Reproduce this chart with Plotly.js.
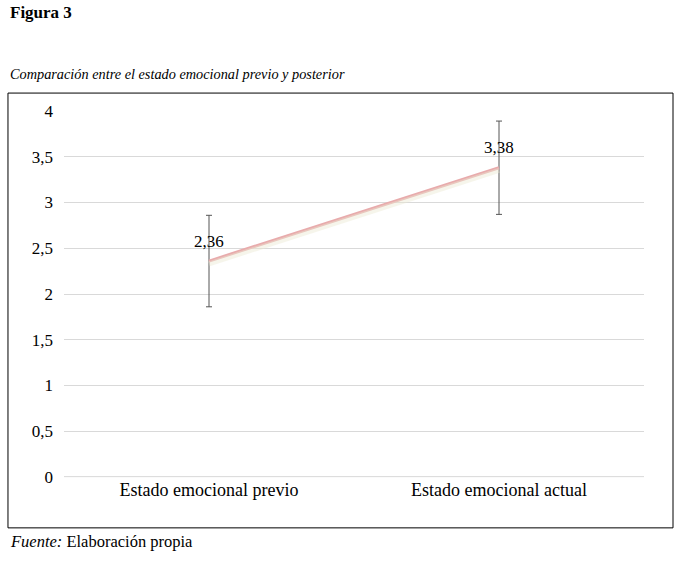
<!DOCTYPE html>
<html>
<head>
<meta charset="utf-8">
<script src="https://cdn.plot.ly/plotly-3.0.1.min.js"></script>
<style>html,body{margin:0;padding:0;background:#fff;}#chart{width:683px;height:561px;}</style>
</head>
<body>
<div id="chart"></div>
<script>
const categories = ["Estado emocional previo", "Estado emocional actual"];
const means = [2.36, 3.38];
const errors = [0.5, 0.51];
const yTickVals = [0, 0.5, 1, 1.5, 2, 2.5, 3, 3.5, 4];
const figureLabel = "Figura 3";
const subtitle = "Comparación entre el estado emocional previo y posterior";
const source = "<i>Fuente:</i> Elaboración propia";

const serif = "Liberation Serif";

const traces = [
  {
    x: categories, y: means, type: "scatter", mode: "lines",
    line: {color: "rgba(235,232,210,0.45)", width: 5},
    hoverinfo: "skip", showlegend: false, yaxis: "y2"
  },
  {
    x: categories, y: means, type: "scatter", mode: "lines",
    line: {color: "#E8ABAC", width: 3},
    error_y: {type: "data", array: errors, visible: true, color: "#555", thickness: 1, width: 3},
    showlegend: false
  }
];

const layout = {
  width: 683, height: 561,
  paper_bgcolor: "#fff", plot_bgcolor: "rgba(0,0,0,0)",
  margin: {l: 64, r: 39, t: 111, b: 84},
  separators: ", ",
  showlegend: false,
  font: {family: serif, color: "#000"},
  xaxis: {
    type: "category", range: [-0.5, 1.5], showgrid: false, zeroline: false, showline: false,
    ticks: "", tickfont: {family: serif, size: 18, color: "#000"}, fixedrange: true
  },
  yaxis: {
    range: [0, 4], tickvals: yTickVals, showgrid: true, gridcolor: "#d9d9d9", gridwidth: 1,
    zeroline: false, showline: false, ticks: "", ticklabelstandoff: 10,
    tickfont: {family: serif, size: 17, color: "#000"}, fixedrange: true
  },
  yaxis2: {range: [0.03, 4.03], overlaying: "y", visible: false, fixedrange: true},
  shapes: [
    {type: "rect", xref: "paper", yref: "paper", x0: -0.0966, x1: 1.05, y0: -0.139, y1: 1.049,
     line: {color: "#000", width: 1}, fillcolor: "rgba(0,0,0,0)", layer: "below"},
    {type: "line", xref: "paper", yref: "paper", x0: 0, x1: 1, y0: 0.001, y1: 0.001,
     line: {color: "#d9d9d9", width: 1}, layer: "above"}
  ],
  annotations: [
    {text: "<b>" + figureLabel + "</b>", xref: "paper", yref: "paper", x: -0.0966, y: 1.268,
     xanchor: "left", yanchor: "middle", showarrow: false, font: {family: serif, size: 17, color: "#000"}},
    {text: "<i>" + subtitle + "</i>", xref: "paper", yref: "paper", x: -0.0966, y: 1.101,
     xanchor: "left", yanchor: "middle", showarrow: false, font: {family: serif, size: 14.3, color: "#000"}},
    {text: source, xref: "paper", yref: "paper", x: -0.0966, y: -0.175,
     xanchor: "left", yanchor: "middle", showarrow: false, font: {family: serif, size: 16.5, color: "#000"}}
  ].concat(categories.map((c, i) => ({
    text: means[i].toFixed(2).replace(".", ","), x: c, y: means[i], xref: "x", yref: "y",
    showarrow: false, yshift: 20, xanchor: "center", yanchor: "middle",
    font: {family: serif, size: 17, color: "#000"}
  })))
};

Plotly.newPlot("chart", traces, layout, {displayModeBar: false, staticPlot: true});
</script>
</body>
</html>
